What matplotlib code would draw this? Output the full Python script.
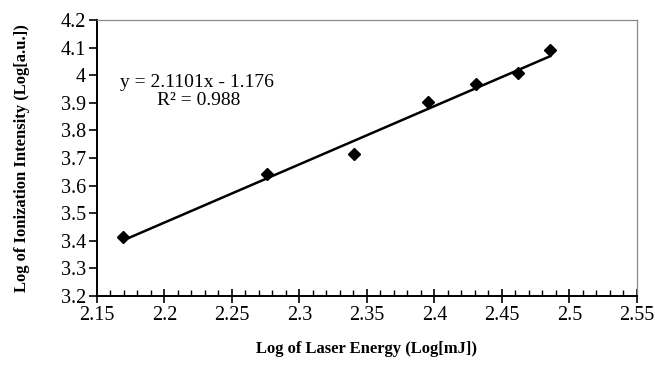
import numpy as np
import matplotlib.pyplot as plt
from matplotlib.ticker import MultipleLocator, FuncFormatter

# Datos
log_energia = [2.1695, 2.2757, 2.3404, 2.3950, 2.4305, 2.4620, 2.4856]
log_intensidad = [3.415, 3.642, 3.715, 3.904, 3.968, 4.010, 4.091]

# Ajuste lineal reportado
pendiente = 2.1101
intercepto = -1.176

marcas_x = [2.15, 2.2, 2.25, 2.3, 2.35, 2.4, 2.45, 2.5, 2.55]
marcas_y = [3.2, 3.3, 3.4, 3.5, 3.6, 3.7, 3.8, 3.9, 4.0, 4.1, 4.2]

plt.rcParams['font.family'] = ['Liberation Serif', 'DejaVu Serif']

fig = plt.figure(figsize=(6.55, 3.65), dpi=100)
ax = fig.add_axes([0.148, 0.189, 0.9725 - 0.148, 0.945 - 0.189])

# Datos dispersos
ax.plot(log_energia, log_intensidad, linestyle='none', marker='D',
        markersize=6.5, color='black', zorder=3)

# Recta de ajuste
x = np.array([min(log_energia), max(log_energia)])
ax.plot(x, pendiente * x + intercepto, color='black', lw=1.8, zorder=2)

ax.set_xlim(2.15, 2.55)
ax.set_ylim(3.2, 4.2)
ax.set_xticks(marcas_x)
ax.set_yticks(marcas_y)
ax.xaxis.set_minor_locator(MultipleLocator(0.01))
fmt = FuncFormatter(lambda v, p: f'{v:g}')
ax.xaxis.set_major_formatter(fmt)
ax.yaxis.set_major_formatter(fmt)

ax.tick_params(axis='x', which='major', direction='inout', length=10, width=1.2,
               labelsize=14.5, pad=2)
ax.tick_params(axis='x', which='minor', direction='in', length=4, width=1.0)
ax.tick_params(axis='y', which='major', direction='out', length=6, width=1.2,
               labelsize=14.5, pad=2)

for lado in ['left', 'bottom']:
    ax.spines[lado].set_linewidth(1.4)
    ax.spines[lado].set_color('black')
for lado in ['top', 'right']:
    ax.spines[lado].set_linewidth(0.9)
    ax.spines[lado].set_color('#8a8a8a')

ax.set_xlabel('Log of Laser Energy (Log[mJ])', fontsize=12, fontweight='bold', labelpad=12)
ax.set_ylabel('Log of Ionization Intensity (Log[a.u.])', fontsize=12, fontweight='bold', labelpad=22)

ax.text(2.167, 3.972, 'y = 2.1101x - 1.176', fontsize=14, ha='left', va='center')
ax.text(2.1944, 3.91, 'R² = 0.988', fontsize=14, ha='left', va='center')

plt.savefig('out.png', dpi=100)
